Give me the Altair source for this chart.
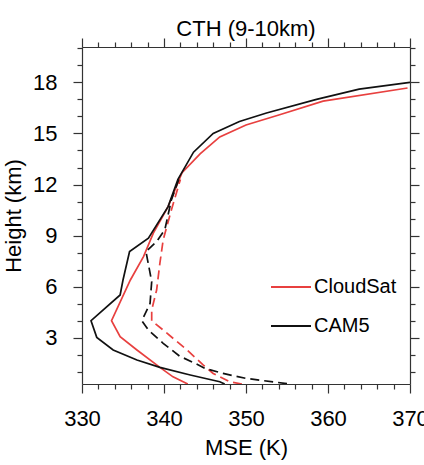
import altair as alt
import pandas as pd

# Solid profiles (MSE in K against height in km)
cloudsat_hgt = [0.28, 0.70, 1.26, 2.28, 3.06, 4.00, 6.39, 7.76, 9.14, 10.7, 12.7, 13.8, 14.8, 15.5, 16.1, 16.9, 17.67]
cloudsat_mse = [342.9, 341.1, 339.5, 336.7, 334.65, 333.6, 335.9, 337.5, 338.7, 340.5, 342.2, 344.4, 346.8, 350.0, 354.1, 359.4, 369.7]

cam5_hgt = [0.28, 0.41, 0.81, 1.26, 1.69, 2.28, 3.02, 4.00, 5.51, 6.39, 8.06, 8.85, 10.7, 12.3, 13.9, 15.0, 15.7, 16.2, 17.0, 17.6, 18.0]
cam5_mse = [347.4, 346.8, 343.2, 339.5, 336.7, 333.8, 331.8, 331.1, 334.65, 335.0, 335.8, 338.1, 340.5, 341.7, 343.6, 346.0, 349.2, 352.5, 358.6, 363.8, 370.0]

# Dashed profiles
cloudsat_dash_hgt = [0.28, 0.41, 0.90, 1.39, 2.28, 3.45, 4.00, 4.63, 5.80, 7.38, 8.75, 10.5, 12.3]
cloudsat_dash_mse = [349.5, 348.0, 346.0, 344.8, 342.8, 339.9, 338.5, 338.5, 339.1, 339.5, 339.9, 340.9, 342.0]

cam5_dash_hgt = [0.30, 0.61, 0.90, 1.20, 1.49, 1.92, 2.67, 3.45, 4.00, 5.02, 6.30, 8.06, 8.65, 9.34, 11.1, 12.3]
cam5_dash_mse = [355.0, 350.0, 347.2, 345.0, 343.8, 341.9, 339.9, 338.1, 337.3, 338.3, 338.5, 337.8, 339.1, 340.1, 340.9, 341.8]

# Axis ticks
x_major = [330, 340, 350, 360, 370]
x_minor = [332, 334, 336, 338, 342, 344, 346, 348, 352, 354, 356, 358, 362, 364, 366, 368]
y_major = [3, 6, 9, 12, 15, 18]
y_minor = [1, 2, 4, 5, 7, 8, 10, 11, 13, 14, 16, 17, 19, 20]

rows = []
for series, style, hgt, mse in [
    ("CloudSat", "solid", cloudsat_hgt, cloudsat_mse),
    ("CAM5", "solid", cam5_hgt, cam5_mse),
    ("CloudSat", "dashed", cloudsat_dash_hgt, cloudsat_dash_mse),
    ("CAM5", "dashed", cam5_dash_hgt, cam5_dash_mse),
]:
    for h, m in zip(hgt, mse):
        rows.append({"series": series, "style": style, "height": h, "mse": m})
df = pd.DataFrame(rows)

FONT = "Liberation Sans"
AX = "#333333"
RED = "#e8403f"
BLACK = "#111111"

xs = alt.Scale(domain=[330, 370], nice=False, zero=False)
ys = alt.Scale(domain=[0.28, 20.08], nice=False, zero=False)
colors = alt.Scale(domain=["CloudSat", "CAM5"], range=[RED, BLACK])


def tick_axis(orient, values, size, domain):
    return alt.Axis(
        orient=orient, values=values, tickSize=size, tickWidth=1.2, tickColor=AX,
        domain=domain, domainColor=AX, domainWidth=1.2, labels=False, title=None, grid=False,
    )


x_main = alt.X(
    "mse:Q", scale=xs,
    axis=alt.Axis(
        orient="bottom", values=x_major, tickSize=9, tickWidth=1.2, tickColor=AX,
        domainColor=AX, domainWidth=1.2, grid=False,
        labelFont=FONT, labelFontSize=22, labelColor="#000000", labelPadding=15, labelFlush=False,
        title="MSE (K)", titleFont=FONT, titleFontSize=22, titleFontWeight="normal",
        titleColor="#000000", titlePadding=8,
    ),
)
y_main = alt.Y(
    "height:Q", scale=ys,
    axis=alt.Axis(
        orient="left", values=y_major, tickSize=9, tickWidth=1.2, tickColor=AX,
        domainColor=AX, domainWidth=1.2, grid=False,
        labelFont=FONT, labelFontSize=22, labelColor="#000000", labelPadding=16, labelFlush=False,
        title="Height (km)", titleFont=FONT, titleFontSize=22, titleFontWeight="normal",
        titleColor="#000000", titlePadding=7,
    ),
)

solid = alt.Chart(df).transform_filter(alt.datum.style == "solid").mark_line(
    strokeWidth=1.7, clip=True
).encode(
    x=x_main,
    y=y_main,
    color=alt.Color(
        "series:N", scale=colors,
        legend=alt.Legend(
            orient="none", legendX=188, legendY=219, title=None, symbolType="stroke",
            symbolSize=1600, symbolStrokeWidth=1.8, labelFont=FONT, labelFontSize=20,
            labelColor="#000000", labelOffset=2, rowPadding=8, padding=0,
        ),
    ),
    order=alt.Order("height:Q"),
)

dashed = alt.Chart(df).transform_filter(alt.datum.style == "dashed").mark_line(
    strokeWidth=1.7, strokeDash=[9, 5], clip=True
).encode(
    x=alt.X("mse:Q", scale=xs, axis=tick_axis("bottom", x_minor, 5, False)),
    y=alt.Y("height:Q", scale=ys, axis=tick_axis("left", y_minor, 5, False)),
    color=alt.Color("series:N", scale=colors, legend=None),
    order=alt.Order("height:Q"),
)

frame_major = alt.Chart(df).mark_point(opacity=0).encode(
    x=alt.X("mse:Q", scale=xs, axis=tick_axis("top", x_major, 9, True)),
    y=alt.Y("height:Q", scale=ys, axis=tick_axis("right", y_major, 9, True)),
)

frame_minor = alt.Chart(df).mark_point(opacity=0).encode(
    x=alt.X("mse:Q", scale=xs, axis=tick_axis("top", x_minor, 5, False)),
    y=alt.Y("height:Q", scale=ys, axis=tick_axis("right", y_minor, 5, False)),
)

chart = alt.layer(solid, dashed, frame_major, frame_minor).resolve_axis(
    x="independent", y="independent"
).resolve_scale(
    color="independent"
).properties(
    width=328,
    height=337,
    padding={"left": 82, "top": 47, "right": 14, "bottom": 81},
    autosize=alt.AutoSizeParams(type="none"),
    title=alt.TitleParams(
        "CTH (9-10km)", font=FONT, fontSize=22, fontWeight="normal", color="#000000", offset=-4
    ),
).configure_view(strokeWidth=0)

chart.save("out.html", embed_options={"renderer": "svg", "actions": False})
